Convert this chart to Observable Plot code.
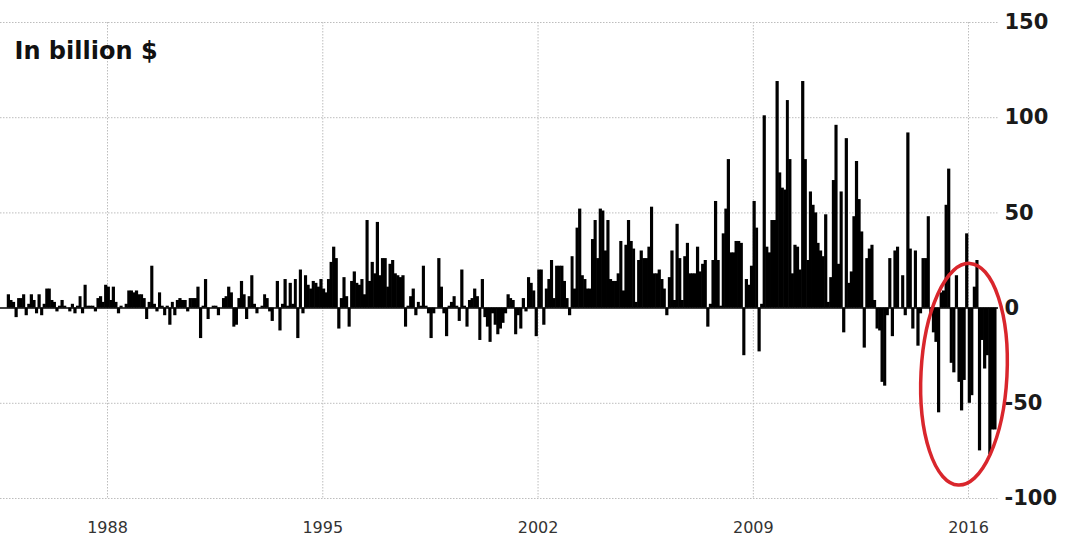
<!DOCTYPE html>
<html><head><meta charset="utf-8">
<script src="https://cdn.jsdelivr.net/npm/d3@7"></script>
<script src="https://cdn.jsdelivr.net/npm/@observablehq/plot@0.6"></script>
<style>
html,body{margin:0;padding:0;background:#fff;}
#chart{position:relative;width:1068px;height:540px;overflow:hidden;background:#fff;}
</style></head><body><div id="chart"></div>
<script>
// Monthly values, billion $, first month Oct 1984
const startMonth = "1984-10";
// Oct 1984 – Dec 1989
const values1984to1989 = [7,4,3,-5,5,5,7,-4,2,7, 4,-3,7,-4,2,10,10,4,3,-2, 1,4,1,0,-2,2,-3,1,6,-3, 12,1,1,1,-2,5,6,3,12,11, 4,11,3,-3,1,0,2,9,9,8, 9,7,7,5,-6,3,22,2,-2,8, 1,-4,1];
// Jan 1990 – Mar 1994
const values1990to1994 = [-9,3,-4,4,5,4,4,-2,5,5, 5,11,-16,1,15,-6,0,1,1,-4, 0,5,6,11,8,-10,-9,5,14,7, -6,6,17,2,-3,0,1,7,5,-2, -7,0,14,-12,2,15,1,13,2,15, -16];
// Apr 1994 – Dec 2001
const values1994to2001 = [20,-3,17,12,10,14,13,11,15,10, 8,15,24,32,26,-11,5,16,6,-10, 14,19,13,12,15,7,46,14,24,18, 45,17,26,26,11,23,25,18,17,16, 17,-10,1,6,10,-4,3,1,22,1, -3,-16,-3,0,26,11,-3,-15,1,3, 6,1,-7,20,1,-10,4,5,10,6, -17,15,-5,-10,-18,-3,-9,-14,-11,-8, -3,7,5,4,-14,-4,-11,5,-2,16, 13,9,-15];
// Jan 2002 – Dec 2006
const values2002to2006 = [20,20,-9,10,15,25,5,22,22,22, 14,5,-4,27,10,42,52,17,15,10, 10,36,46,26,52,51,30,46,15,14, 14,18,35,9,33,46,35,31,3,25, 30,26,26,32,53,18,18,20,15,10, -4,16,30,4,44,26,4,27,34,18];
// Jan 2007 – Dec 2011
const values2007to2011 = [18,18,32,19,23,25,-10,2,25,56, 25,1,39,52,78,29,29,35,35,34, -25,15,12,22,56,42,-23,2,101,32, 29,46,46,119,71,63,62,109,78,18, 33,32,20,119,78,25,61,54,50,34, 30,27,49,3,16,67,96,23,61,-13];
// Jan 2012 – Nov 2016
const values2012to2016 = [89,13,19,48,77,57,40,-21,26,31, 33,4,-11,-12,-39,-41,-4,26,-15,30, 32,0,17,-4,92,31,-11,30,-20,-3, 26,26,48,-3,-13,-18,-55,8,9,54, 73,-29,-34,17,-39,-54,-38,39,-50,-46, 11,25,-75,-17,-32,-25,-77,-64,-64];

const yTicks = [150, 100, 50, 0, -50, -100];
const gridValues = [150, 100, 50, -50, -100];
const xTickYears = [1988, 1995, 2002, 2009, 2016];
const unitLabel = "In billion $";
const highlight = {date: "2015-11-14", value: -35};

const values = [].concat(values1984to1989, values1990to1994, values1994to2001, values2002to2006, values2007to2011, values2012to2016);
const t0 = d3.utcParse("%Y-%m")(startMonth);
const data = values.map((v, i) => ({start: d3.utcMonth.offset(t0, i), end: d3.utcMonth.offset(t0, i + 1), value: v}));
const xTicks = xTickYears.map(y => new Date(Date.UTC(y, 0, 1)));

function ellipseMark(index, scales) {
  const cx = scales.x(d3.utcParse("%Y-%m-%d")(highlight.date));
  const cy = scales.y(highlight.value);
  const g = d3.create("svg:g");
  g.append("ellipse")
    .attr("cx", cx).attr("cy", cy).attr("rx", 43).attr("ry", 111)
    .attr("transform", `rotate(3 ${cx} ${cy})`)
    .attr("fill", "none").attr("stroke", "#d9262c").attr("stroke-width", 3.5);
  return g.node();
}

const chart = Plot.plot({
  width: 1068, height: 540,
  marginTop: 22, marginBottom: 42, marginLeft: 0, marginRight: 70,
  x: {type: "utc", domain: [new Date(Date.UTC(1984, 6, 9)), new Date(Date.UTC(2016, 11, 22))], axis: null},
  y: {domain: [-100, 150], axis: null},
  style: {background: "white", overflow: "visible"},
  marks: [
    Plot.ruleY(gridValues, {stroke: "#bdbdbd", strokeDasharray: "1.5,1.5"}),
    Plot.ruleX(xTicks, {stroke: "#bdbdbd", strokeDasharray: "1.5,1.5"}),
    Plot.rectY(data, {x1: "start", x2: "end", y: "value", fill: "#000", insetLeft: -0.3, insetRight: -0.3}),
    Plot.ruleY([0], {stroke: "#000", strokeWidth: 1.5}),
    Plot.text(yTicks, {y: d => d, frameAnchor: "right", dx: 6, textAnchor: "start", lineAnchor: "middle", text: d => String(d), fontSize: 21, fontWeight: "bold", fill: "#1a1a1a", fontFamily: "DejaVu Sans"}),
    Plot.text(xTicks, {x: d => d, frameAnchor: "bottom", dy: 29, lineAnchor: "middle", text: d => String(d.getUTCFullYear()), fontSize: 16, fill: "#333", fontFamily: "DejaVu Sans"}),
    Plot.text([unitLabel], {frameAnchor: "top-left", dx: 14, dy: 29, lineAnchor: "middle", text: d => d, fontSize: 24, fontWeight: "bold", fill: "#111", fontFamily: "DejaVu Sans", textAnchor: "start"}),
    ellipseMark
  ]
});
document.getElementById("chart").appendChild(chart);
</script>
</body></html>
